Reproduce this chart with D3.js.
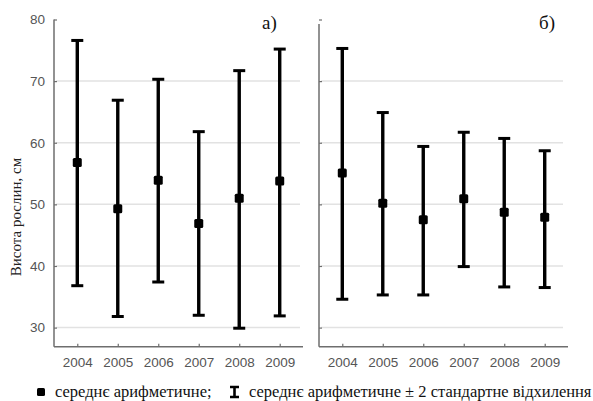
<!DOCTYPE html>
<html><head><meta charset="utf-8">
<script src="https://cdn.jsdelivr.net/npm/d3@7"></script>
<style>body{margin:0;background:#fff}svg{display:block}</style>
</head><body>
<svg id="c" width="593" height="401"></svg>
<script>
const years = ["2004","2005","2006","2007","2008","2009"];
const meanA  = [56.8, 49.3, 53.9, 46.9, 51.0, 53.8];
const upperA = [76.6, 66.9, 70.3, 61.8, 71.7, 75.2];
const lowerA = [36.8, 31.8, 37.4, 32.0, 29.9, 31.9];
const meanB  = [55.1, 50.2, 47.5, 50.9, 48.7, 47.9];
const upperB = [75.3, 64.9, 59.4, 61.7, 60.7, 58.7];
const lowerB = [34.6, 35.3, 35.3, 39.9, 36.6, 36.5];
const yTicks = [30, 40, 50, 60, 70, 80];
const panelLabels = ["а)", "б)"];
const yTitle = "Висота рослин, см";
const legendMean = "середнє арифметичне;";
const legendRange = "середнє арифметичне ± 2 стандартне відхилення";

const svg = d3.select("#c");
const y = d3.scaleLinear().domain([26.9, 80]).range([346.7, 19.5]);
const axisCol = "#6e6e6e";

const panels = [
  {x0: 54, x1: 303, gridEnd: 300, top: 19.5, mean: meanA, up: upperA, lo: lowerA, label: panelLabels[0], lx: 262, ly: 29, showY: true},
  {x0: 319, x1: 568, gridEnd: 563, top: 24, mean: meanB, up: upperB, lo: lowerB, label: panelLabels[1], lx: 539, ly: 29, showY: false}
];

panels.forEach(p => {
  const x = d3.scalePoint().domain(years).range([p.x0, p.x1]).padding(0.575);
  const g = svg.append("g");
  g.selectAll("line.grid").data(yTicks.filter(t => t < 80)).join("line")
    .attr("x1", p.x0 + 2).attr("x2", p.gridEnd)
    .attr("y1", d => y(d)).attr("y2", d => y(d))
    .attr("stroke", "#e2e2e2").attr("stroke-width", 1.5);
  const ya = d3.axisLeft(y).tickValues(yTicks).tickSize(-3).tickPadding(9)
    .tickFormat(p.showY ? d3.format("d") : () => "");
  const yg = g.append("g").attr("transform", `translate(${p.x0},0)`).call(ya);
  yg.select(".domain").remove();
  yg.selectAll(".tick line").attr("stroke", axisCol).attr("stroke-width", 1.2);
  yg.selectAll(".tick text").attr("fill", "#555").style("font-family", "Liberation Sans, Arial, sans-serif").style("font-size", "13.5px");
  g.append("line").attr("x1", p.x0).attr("x2", p.x0).attr("y1", p.top).attr("y2", y.range()[0])
    .attr("stroke", axisCol).attr("stroke-width", 1.5);
  const xa = d3.axisBottom(x).tickSize(-3).tickPadding(11);
  const xg = g.append("g").attr("transform", `translate(0,${y.range()[0]})`).call(xa);
  xg.select(".domain").remove();
  xg.selectAll(".tick line").attr("stroke", axisCol).attr("stroke-width", 1.2);
  xg.selectAll(".tick text").attr("fill", "#555").style("font-family", "Liberation Sans, Arial, sans-serif").style("font-size", "13.5px");
  g.append("line").attr("x1", p.x0).attr("x2", p.x1).attr("y1", y.range()[0]).attr("y2", y.range()[0])
    .attr("stroke", axisCol).attr("stroke-width", 1.5);
  const data = years.map((yr, i) => ({yr, m: p.mean[i], u: p.up[i], l: p.lo[i]}));
  const eb = g.selectAll("g.eb").data(data).join("g");
  eb.append("line").attr("x1", d => x(d.yr)).attr("x2", d => x(d.yr))
    .attr("y1", d => y(d.u)).attr("y2", d => y(d.l)).attr("stroke", "#000").attr("stroke-width", 3.4);
  eb.append("line").attr("x1", d => x(d.yr) - 6).attr("x2", d => x(d.yr) + 6)
    .attr("y1", d => y(d.u)).attr("y2", d => y(d.u)).attr("stroke", "#000").attr("stroke-width", 3);
  eb.append("line").attr("x1", d => x(d.yr) - 6).attr("x2", d => x(d.yr) + 6)
    .attr("y1", d => y(d.l)).attr("y2", d => y(d.l)).attr("stroke", "#000").attr("stroke-width", 3);
  eb.append("rect").attr("x", d => x(d.yr) - 4.5).attr("y", d => y(d.m) - 4.5)
    .attr("width", 9).attr("height", 9).attr("rx", 1.5).attr("fill", "#000");
  g.append("text").attr("x", p.lx).attr("y", p.ly).text(p.label)
    .style("font-family", "Liberation Serif, Times New Roman, serif").style("font-size", "19px").attr("fill", "#111");
});

svg.append("text").attr("transform", "translate(21,217) rotate(-90)")
  .attr("text-anchor", "middle").text(yTitle)
  .style("font-family", "Liberation Serif, Times New Roman, serif").style("font-size", "15px").attr("fill", "#222");

const leg = svg.append("g");
leg.append("rect").attr("x", 37).attr("y", 388).attr("width", 8).attr("height", 8).attr("rx", 1.5).attr("fill", "#000");
leg.append("text").attr("x", 55).attr("y", 397).text(legendMean)
  .style("font-family", "Liberation Serif, Times New Roman, serif").style("font-size", "16.5px").attr("fill", "#111");
leg.append("path").attr("d", "M230,387H239M234.5,387V397M230,397H239").attr("stroke", "#000").attr("stroke-width", 2.6).attr("fill", "none");
leg.append("text").attr("x", 249).attr("y", 397).text(legendRange)
  .style("font-family", "Liberation Serif, Times New Roman, serif").style("font-size", "16.5px").attr("fill", "#111");
</script>
</body></html>
